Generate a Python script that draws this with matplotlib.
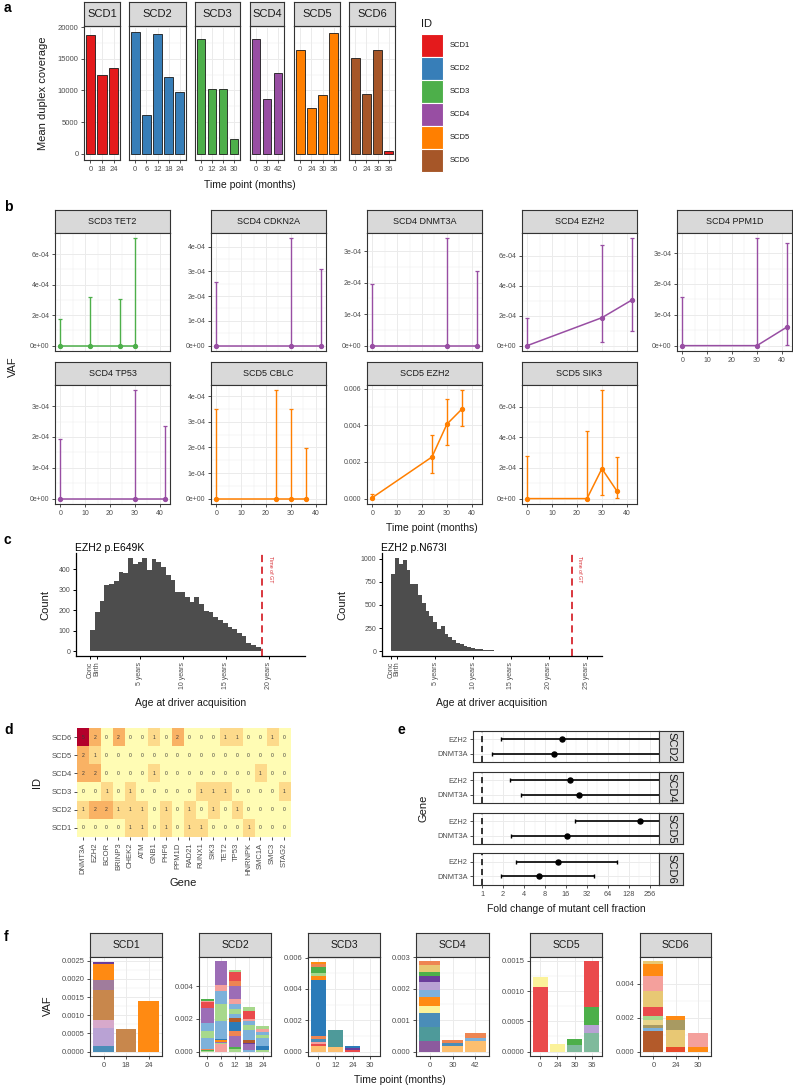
import numpy as np
import matplotlib
matplotlib.use('Agg')
import matplotlib.pyplot as plt
from matplotlib.colors import LinearSegmentedColormap
from matplotlib.patches import Rectangle
from matplotlib.ticker import FixedLocator, NullFormatter
import matplotlib.transforms as mtransforms

plt.rcParams['font.family'] = ['Liberation Sans', 'DejaVu Sans']

# ======================= DATA =======================
# ---- panel a: mean duplex coverage ----
a_ids = ['SCD1', 'SCD2', 'SCD3', 'SCD4', 'SCD5', 'SCD6']
a_times = [['0', '18', '24'], ['0', '6', '12', '18', '24'], ['0', '12', '24', '30'],
           ['0', '30', '42'], ['0', '24', '30', '36'], ['0', '24', '30', '36']]
a_coverage = [[18800, 12400, 13500], [19200, 6200, 18900, 12100, 9800],
              [18100, 10200, 10300, 2400], [18100, 8700, 12800],
              [16400, 7300, 9300, 19000], [15100, 9500, 16300, 450]]
a_bar_id = [['SCD1'] * 3, ['SCD2'] * 5, ['SCD3'] * 4, ['SCD4'] * 3, ['SCD5'] * 4,
            ['SCD6', 'SCD6', 'SCD6', 'SCD1']]
id_colors = {'SCD1': '#E41A1C', 'SCD2': '#377EB8', 'SCD3': '#4DAF4A',
             'SCD4': '#984EA3', 'SCD5': '#FF7F00', 'SCD6': '#A65628'}

# ---- panel b: VAF trajectories ----
b_titles = ['SCD3 TET2', 'SCD4 CDKN2A', 'SCD4 DNMT3A', 'SCD4 EZH2', 'SCD4 PPM1D',
            'SCD4 TP53', 'SCD5 CBLC', 'SCD5 EZH2', 'SCD5 SIK3']
b_ids = ['SCD3', 'SCD4', 'SCD4', 'SCD4', 'SCD4', 'SCD4', 'SCD5', 'SCD5', 'SCD5']
b_times = [[0, 12, 24, 30], [0, 30, 42], [0, 30, 42], [0, 30, 42], [0, 30, 42],
           [0, 30, 42], [0, 24, 30, 36], [0, 24, 30, 36], [0, 24, 30, 36]]
b_vaf = [[0, 0, 0, 0], [0, 0, 0], [0, 0, 0], [0, 1.87e-4, 3.05e-4], [0, 0, 0.6e-4],
         [0, 0, 0], [0, 0, 0, 0], [0.00005, 0.00227, 0.00406, 0.00488],
         [0, 0, 1.95e-4, 0.5e-4]]
b_lower = [[0, 0, 0, 0], [0, 0, 0], [0, 0, 0], [0, 0.22e-4, 1.0e-4], [0, 0, 0.03e-4],
           [0, 0, 0], [0, 0, 0, 0], [0, 0.00138, 0.00291, 0.00398],
           [0, 0, 0.25e-4, 0.02e-4]]
b_upper = [[1.75e-4, 3.22e-4, 3.07e-4, 7.04e-4], [2.55e-4, 4.33e-4, 3.11e-4],
           [1.95e-4, 3.41e-4, 2.36e-4], [1.84e-4, 6.76e-4, 7.18e-4],
           [1.58e-4, 3.48e-4, 3.34e-4], [1.93e-4, 3.51e-4, 2.34e-4],
           [3.49e-4, 4.23e-4, 3.5e-4, 1.99e-4], [0.00027, 0.00349, 0.00545, 0.0059],
           [2.75e-4, 4.41e-4, 7.05e-4, 2.73e-4]]
b_yticks = [[0, 2e-4, 4e-4, 6e-4], [0, 1e-4, 2e-4, 3e-4, 4e-4], [0, 1e-4, 2e-4, 3e-4],
            [0, 2e-4, 4e-4, 6e-4], [0, 1e-4, 2e-4, 3e-4], [0, 1e-4, 2e-4, 3e-4],
            [0, 1e-4, 2e-4, 3e-4, 4e-4], [0, 0.002, 0.004, 0.006], [0, 2e-4, 4e-4, 6e-4]]
b_xticks = [0, 10, 20, 30, 40]

# ---- panel c: age at driver acquisition ----
c_titles = ['EZH2 p.E649K', 'EZH2 p.N673I']
c1_counts = [105, 190, 243, 322, 325, 340, 383, 380, 455, 422, 432, 455, 395, 450, 432,
             412, 370, 345, 290, 287, 262, 238, 262, 232, 195, 190, 168, 150, 138, 118,
             110, 90, 75, 38, 30, 20]
c2_counts = [835, 1010, 940, 990, 880, 725, 725, 605, 525, 432, 385, 312, 240, 275, 185,
             150, 120, 95, 75, 60, 48, 36, 28, 22, 17, 13, 10, 8, 6, 5, 4, 3, 2, 2, 1, 1]
c_bin_start = [-0.75, -0.75]
c_bin_width = [0.55, 0.5]
c_gt = [19.2, 23.0]
c_xticks = [[-0.75, 0, 5, 10, 15, 20], [-0.75, 0, 5, 10, 15, 20, 25]]
c_xticklabels = [['Conc', 'Birth', '5 years', '10 years', '15 years', '20 years'],
                 ['Conc', 'Birth', '5 years', '10 years', '15 years', '20 years', '25 years']]
c_yticks = [[0, 100, 200, 300, 400], [0, 250, 500, 750, 1000]]
c_xlim = [(-2.4, 24.2), (-2.0, 27.0)]

# ---- panel d: heatmap ----
d_ids = ['SCD6', 'SCD5', 'SCD4', 'SCD3', 'SCD2', 'SCD1']
d_genes = ['DNMT3A', 'EZH2', 'BCOR', 'BRINP3', 'CHEK2', 'ATM', 'GNB1', 'PHF6', 'PPM1D',
           'RAD21', 'RUNX1', 'SIK3', 'TET2', 'TP53', 'HNRNPK', 'SMC1A', 'SMC3', 'STAG2']
d_counts = [[5, 2, 0, 2, 0, 0, 1, 0, 2, 0, 0, 0, 1, 1, 0, 0, 1, 0],
            [2, 1, 0, 0, 0, 0, 0, 0, 0, 0, 0, 0, 0, 0, 0, 0, 0, 0],
            [2, 2, 0, 0, 0, 0, 1, 0, 0, 0, 0, 0, 0, 0, 0, 1, 0, 0],
            [0, 0, 1, 0, 1, 0, 0, 0, 0, 0, 1, 1, 1, 0, 0, 0, 0, 1],
            [1, 2, 2, 1, 1, 1, 0, 1, 0, 1, 0, 1, 0, 1, 0, 0, 0, 0],
            [0, 0, 0, 0, 1, 1, 0, 1, 0, 1, 1, 0, 0, 0, 1, 0, 0, 0]]

# ---- panel e: fold change ----
e_ids = ['SCD2', 'SCD4', 'SCD5', 'SCD6']
e_genes = ['DNMT3A', 'EZH2']
e_point = [[10.8, 13.9], [24.6, 18.3], [16.4, 184.0], [6.6, 12.4]]
e_lower = [[1.38, 1.9], [3.6, 2.5], [2.58, 21.5], [1.87, 3.1]]
e_upper = [[1e4, 1e4], [1e4, 1e4], [1e4, 1e4], [40.8, 85.0]]
e_xticks = [1, 2, 4, 8, 16, 32, 64, 128, 256]

# ---- panel f: stacked VAF ----
f_ids = ['SCD1', 'SCD2', 'SCD3', 'SCD4', 'SCD5', 'SCD6']
f_times = [['0', '18', '24'], ['0', '6', '12', '18', '24'], ['0', '12', '24', '30'],
           ['0', '30', '42'], ['0', '24', '30', '36'], ['0', '24', '30']]
f_palette = {'lb': '#7DB1DA', 'b': '#2B7BB9', 'lg': '#A7D88C', 'g': '#4DAF4A',
             'pk': '#F4A09C', 'r': '#EA4A4C', 'lo': '#FDBF6F', 'o': '#FF8A12',
             'lp': '#B9A2D4', 'p': '#9C6DB6', 'dp': '#6A3D9A', 'y': '#FBF29A',
             'br': '#B35A2A', 'tan': '#C8874C', 'teal': '#4E9A9A', 'sal': '#EE8552',
             'mv': '#A07C9C', 'lpk': '#D7A9CB', 'kh': '#E8C874', 'ol': '#A89A62',
             'sb': '#4A8DB8', 'pu2': '#8C5A9E', 'tg': '#7FBA9C', 'lkh': '#EAD58C',
             'ro': '#E84A2A'}
f_vals = [
    [[0.00014, 0.00052, 0.00022, 0.00081, 0.00028, 0.00043, 0.00008], [0.00062], [0.0014]],
    [[0.00005, 0.00004, 0.00006, 0.0007, 0.00042, 0.0005, 0.0009, 0.00035, 0.00005, 0.00017],
     [0.00043, 0.00008, 0.00009, 0.00009, 0.00009, 0.0011, 0.00106, 0.00078, 0.00037, 0.00143],
     [0.00014, 0.00012, 0.00071, 0.0003, 0.00051, 0.0003, 0.00024, 0.00027, 0.00035,
      0.00027, 0.00082, 0.00027, 0.00045, 0.0001, 0.00014],
     [0.0001, 0.00035, 0.0001, 0.00015, 0.0006, 0.0003, 0.00026, 0.00015, 0.0005, 0.00025],
     [0.0001, 0.00022, 0.00048, 0.0002, 0.00022, 0.00015, 0.0002]],
    [[0.00035, 0.0001, 0.00016, 0.00017, 0.00018, 0.00361, 0.00027, 0.0002, 0.00033,
      0.00021, 0.00017],
     [0.0003, 0.0011], [0.00012, 0.0001, 0.0001], []],
    [[0.00034, 0.00045, 0.00044, 0.00021, 0.00028, 0.00023, 0.00025, 0.00019, 0.00014,
      0.00021, 0.00012],
     [0.00016, 0.00012, 0.00009], [0.00032, 0.0001, 0.00018]],
    [[0.00106, 0.00018], [0.00012], [0.00011, 0.00009], [0.0003, 0.00014, 0.0003, 0.00075]],
    [[0.00123, 0.00019, 0.00014, 0.00033, 0.00024, 0.0005, 0.00098, 0.00088, 0.00072, 0.00012],
     [0.00029, 0.00098, 0.00058, 0.00026], [0.00029, 0.00082]],
]
f_cols = [
    [['sb', 'lp', 'lpk', 'tan', 'mv', 'o', 'dp'], ['tan'], ['o']],
    [['lg', 'g', 'sal', 'lb', 'lg', 'lb', 'p', 'r', 'pk', 'g'],
     ['pk', 'lg', 'p', 'o', 'b', 'lb', 'lg', 'lb', 'pk', 'p'],
     ['lg', 'g', 'p', 'sal', 'b', 'br', 'lb', 'lg', 'lb', 'pk', 'p', 'sal', 'r', 'r', 'lg'],
     ['lb', 'p', 'dp', 'br', 'lb', 'lg', 'lb', 'pk', 'r', 'lg'],
     ['lg', 'b', 'lb', 'lg', 'lb', 'pk', 'lg']],
    [['lo', 'r', 'pk', 'sb', 'sal', 'b', 'o', 'lg', 'g', 'sal', 'o'],
     ['lo', 'teal'], ['r', 'dp', 'b'], []],
    [['pu2', 'teal', 'sb', 'y', 'o', 'lb', 'lp', 'dp', 'g', 'kh', 'sal'],
     ['lo', 'sb', 'sal'], ['lo', 'lb', 'sal']],
    [['r', 'y'], ['y'], ['tg', 'g'], ['tg', 'lp', 'g', 'r']],
    [['br', 'lb', 'ol', 'lkh', 'lg', 'r', 'kh', 'pk', 'o', 'kh'],
     ['ro', 'kh', 'ol', 'o'], ['o', 'pk']],
]
f_yticks = [[0, 0.0005, 0.001, 0.0015, 0.002, 0.0025], [0, 0.002, 0.004],
            [0, 0.002, 0.004, 0.006], [0, 0.001, 0.002, 0.003],
            [0, 0.0005, 0.001, 0.0015], [0, 0.002, 0.004]]
f_decimals = [4, 3, 3, 3, 4, 3]

# ======================= FIGURE =======================
W, H = 793, 1086
fig = plt.figure(figsize=(W / 100, H / 100), dpi=100)

BORDER = '#333333'
GRID = '#EBEBEB'
TICKC = '#4D4D4D'
TXT = '#1A1A1A'


def add_ax(x0, y0, x1, y1):
    return fig.add_axes([x0 / W, 1 - y1 / H, (x1 - x0) / W, (y1 - y0) / H])


def ftext(x, y, s, **kw):
    fig.text(x / W, 1 - y / H, s, **kw)


def style_bw(ax, fs=5):
    ax.set_facecolor('white')
    for s in ax.spines.values():
        s.set_color(BORDER)
        s.set_linewidth(0.8)
    ax.tick_params(axis='both', which='major', length=2.5, width=0.6, color=BORDER,
                   labelsize=fs, labelcolor=TICKC, pad=1.5)
    ax.tick_params(axis='both', which='minor', length=0)
    ax.set_axisbelow(True)
    ax.grid(True, which='major', color=GRID, lw=0.7)
    ax.grid(True, which='minor', color=GRID, lw=0.35)


def style_classic(ax, fs=5):
    for s in ['top', 'right']:
        ax.spines[s].set_visible(False)
    for s in ['left', 'bottom']:
        ax.spines[s].set_color('black')
        ax.spines[s].set_linewidth(0.9)
    ax.tick_params(axis='both', length=2.5, width=0.7, color='black', labelsize=5,
                   labelcolor=TICKC, pad=1.5)


def strip(x0, y0, x1, y1, text, fs, rot=0):
    ax = add_ax(x0, y0, x1, y1)
    ax.set_facecolor('#D9D9D9')
    for s in ax.spines.values():
        s.set_color(BORDER)
        s.set_linewidth(0.8)
    ax.set_xticks([])
    ax.set_yticks([])
    ax.text(0.5, 0.5, text, ha='center', va='center', fontsize=fs, color=TXT,
            rotation=rot, transform=ax.transAxes)
    return ax


# panel letters
for lab, (x, y) in zip('abcdef', [(4, 8), (4, 207), (4, 540), (4, 730), (397, 730), (4, 937)]):
    ftext(x, y, lab, fontsize=10, fontweight='bold', ha='left', va='center')

# ---------------- panel a ----------------
a_px = [(84, 120), (129, 186), (195, 240), (250, 284), (294, 340), (349, 395)]
ymax_a = max(max(v) for v in a_coverage)
for i, sid in enumerate(a_ids):
    x0, x1 = a_px[i]
    strip(x0, 2, x1, 26, sid, 8)
    ax = add_ax(x0, 26, x1, 160)
    style_bw(ax, 5.5)
    n = len(a_times[i])
    xs = np.arange(n)
    ax.bar(xs, a_coverage[i], width=0.8, color=[id_colors[c] for c in a_bar_id[i]],
           edgecolor='#1A1A1A', linewidth=0.6, zorder=3)
    ax.set_xlim(-0.55, n - 0.45)
    ax.set_ylim(-0.05 * ymax_a, 1.05 * ymax_a)
    ax.set_xticks(xs)
    ax.set_xticklabels(a_times[i])
    ax.set_yticks([0, 5000, 10000, 15000, 20000])
    ax.yaxis.set_minor_locator(FixedLocator([2500, 7500, 12500, 17500]))
    if i > 0:
        ax.tick_params(axis='y', left=False, labelleft=False)
ftext(43, 93, 'Mean duplex coverage', rotation=90, ha='center', va='center', fontsize=8, color=TXT)
ftext(250, 185, 'Time point (months)', ha='center', va='center', fontsize=7.5, color=TXT)

# legend
lax = add_ax(415, 15, 500, 180)
lax.set_xlim(415, 500)
lax.set_ylim(180, 15)
lax.axis('off')
lax.text(421, 24, 'ID', fontsize=8, va='center', ha='left', color=TXT)
for k, sid in enumerate(a_ids):
    y0 = 34 + k * 23
    lax.add_patch(Rectangle((421, y0), 22, 23, facecolor=id_colors[sid], edgecolor='white', lw=0.8))
    lax.text(450, y0 + 11.5, sid, fontsize=5.5, va='center', ha='left', color=TXT)

# ---------------- panel b ----------------
b_cols_x = [55, 211, 367, 522, 677]
b_rows = [(210, 233, 351), (362, 385, 504)]
for k, title in enumerate(b_titles):
    r, c = divmod(k, 5)
    x0 = b_cols_x[c]
    x1 = x0 + 115
    st, sb, pb = b_rows[r]
    strip(x0, st, x1, sb, title, 6.5)
    ax = add_ax(x0, sb, x1, pb)
    style_bw(ax, 5)
    t = np.array(b_times[k], float)
    v = np.array(b_vaf[k])
    lo = np.array(b_lower[k])
    hi = np.array(b_upper[k])
    col = id_colors[b_ids[k]]
    ax.errorbar(t, v, yerr=[v - lo, hi - v], color=col, lw=1.1, marker='o', ms=2.8,
                capsize=1.5, capthick=0.9, elinewidth=1.0, zorder=3)
    ymin_, ymax_ = lo.min(), hi.max()
    rng = ymax_ - ymin_
    ax.set_ylim(ymin_ - 0.05 * rng, ymax_ + 0.05 * rng)
    ax.set_xlim(-2.1, 44.1)
    ax.set_xticks(b_xticks)
    ax.xaxis.set_minor_locator(FixedLocator([5, 15, 25, 35]))
    yt = b_yticks[k]
    ax.set_yticks(yt)
    if title == 'SCD5 EZH2':
        ax.set_yticklabels(['%.3f' % y for y in yt])
    else:
        ax.set_yticklabels(['%.0e' % y for y in yt])
    ax.yaxis.set_minor_locator(FixedLocator([(yt[j] + yt[j + 1]) / 2 for j in range(len(yt) - 1)]))
    if r == 0 and c < 4:
        ax.tick_params(axis='x', which='both', bottom=False, labelbottom=False)
ftext(13, 367, 'VAF', rotation=90, ha='center', va='center', fontsize=8, color=TXT)
ftext(432, 528, 'Time point (months)', ha='center', va='center', fontsize=7.5, color=TXT)

# ---------------- panel c ----------------
c_px = [(76, 305), (382, 602)]
for i, counts in enumerate([c1_counts, c2_counts]):
    x0, x1 = c_px[i]
    ax = add_ax(x0, 553, x1, 656)
    style_classic(ax, 5)
    counts = np.array(counts, float)
    edges = c_bin_start[i] + c_bin_width[i] * np.arange(len(counts))
    ax.bar(edges, counts, width=c_bin_width[i], align='edge', color='#4D4D4D', lw=0)
    ax.axvline(c_gt[i], color='#D7282F', ls=(0, (4, 2.5)), lw=1.3)
    trans = mtransforms.blended_transform_factory(ax.transData, ax.transAxes)
    ax.text(c_gt[i] + 0.7, 0.97, 'Time of GT', transform=trans, rotation=-90, va='top',
            ha='left', fontsize=3.8, color='#D7282F')
    ax.set_xlim(*c_xlim[i])
    ax.set_ylim(-0.05 * counts.max(), 1.05 * counts.max())
    ax.set_xticks(c_xticks[i])
    ax.set_xticklabels(c_xticklabels[i], rotation=90)
    ax.set_yticks(c_yticks[i])
    ftext(x0 - 1, 548, c_titles[i], ha='left', va='center', fontsize=7.5, color='black')
    ftext(x0 - 31 if i == 0 else x0 - 40, 605, 'Count', rotation=90, ha='center', va='center', fontsize=8, color=TXT)
    ftext((x0 + x1) / 2, 703, 'Age at driver acquisition', ha='center', va='center', fontsize=7.5, color=TXT)

# ---------------- panel d ----------------
d_cmap = LinearSegmentedColormap.from_list('d', ['#FFFCB4', '#FDDA8B', '#F9B264', '#F4823F', '#E04430', '#B3002B'])
ax = add_ax(77, 728, 290, 837)
mat = np.array(d_counts)
ax.imshow(mat, cmap=d_cmap, vmin=0, vmax=5, aspect='auto', interpolation='nearest')
for r in range(mat.shape[0]):
    for c in range(mat.shape[1]):
        ax.text(c, r, str(mat[r, c]), ha='center', va='center', fontsize=3.6, color='#3A3A3A')
for s in ax.spines.values():
    s.set_visible(False)
ax.set_xticks(range(len(d_genes)))
ax.set_xticklabels(d_genes, rotation=90)
ax.set_yticks(range(len(d_ids)))
ax.set_yticklabels(d_ids)
ax.tick_params(axis='both', length=2.5, width=0.6, color=BORDER, labelsize=5.5, labelcolor=TICKC, pad=1.5)
ftext(37, 782, 'ID', rotation=90, ha='center', va='center', fontsize=8, color=TXT)
ftext(183, 883, 'Gene', ha='center', va='center', fontsize=8, color=TXT)

# ---------------- panel e ----------------
e_rows = [(731, 762), (772, 803), (813, 844), (853, 885)]
for i, sid in enumerate(e_ids):
    y0, y1 = e_rows[i]
    ax = add_ax(473, y0, 659, y1)
    style_bw(ax, 5.3)
    strip(659, y0, 683, y1, sid, 8, rot=-90)
    ax.set_xscale('log', base=2)
    ax.set_xlim(2 ** -0.43, 2 ** 8.43)
    ax.set_ylim(0.4, 2.6)
    ys = np.array([1, 2])
    p = np.array(e_point[i])
    lo = np.array(e_lower[i])
    hi = np.array(e_upper[i])
    ax.axvline(1, color='black', ls=(0, (4, 2.5)), lw=1.1, zorder=2)
    ax.errorbar(p, ys, xerr=[p - lo, hi - p], fmt='o', color='black', ms=3.6, lw=1.2,
                elinewidth=1.2, capsize=1.3, capthick=1.0, zorder=3)
    ax.set_xticks(e_xticks)
    ax.set_xticklabels([str(v) for v in e_xticks])
    ax.xaxis.set_minor_locator(FixedLocator([2 ** (k + 0.5) for k in range(-1, 9)]))
    ax.xaxis.set_minor_formatter(NullFormatter())
    ax.set_yticks([1, 2])
    ax.set_yticklabels(e_genes)
    ax.yaxis.set_minor_locator(FixedLocator([]))
    ax.tick_params(axis='both', which='minor', length=0)
    if i < 3:
        ax.tick_params(axis='x', which='both', bottom=False, labelbottom=False)
ftext(423, 808, 'Gene', rotation=90, ha='center', va='center', fontsize=8, color=TXT)
ftext(566, 909, 'Fold change of mutant cell fraction', ha='center', va='center', fontsize=7.5, color=TXT)

# ---------------- panel f ----------------
f_px = [(90, 162), (199, 271), (308, 380), (416, 489), (530, 602), (640, 711)]
for i, sid in enumerate(f_ids):
    x0, x1 = f_px[i]
    strip(x0, 933, x1, 957, sid, 7.5)
    ax = add_ax(x0, 957, x1, 1056)
    style_bw(ax, 5.5)
    n = len(f_times[i])
    totals = []
    for j in range(n):
        vals = f_vals[i][j]
        cols = [f_palette[c] for c in f_cols[i][j]]
        if len(vals):
            bottoms = np.concatenate([[0], np.cumsum(vals)[:-1]])
            ax.bar([j] * len(vals), vals, bottom=bottoms, width=0.9, color=cols, lw=0, zorder=3)
        totals.append(float(np.sum(vals)) if len(vals) else 0.0)
    tmax = max(totals)
    ax.set_ylim(-0.05 * tmax, 1.05 * tmax)
    ax.set_xlim(-0.6, n - 0.4)
    ax.set_xticks(range(n))
    ax.set_xticklabels(f_times[i])
    yt = f_yticks[i]
    ax.set_yticks(yt)
    ax.set_yticklabels([('%.' + str(f_decimals[i]) + 'f') % y for y in yt])
    ax.yaxis.set_minor_locator(FixedLocator([(yt[j] + yt[j + 1]) / 2 for j in range(len(yt) - 1)]))
ftext(48, 1006, 'VAF', rotation=90, ha='center', va='center', fontsize=8, color=TXT)
ftext(400, 1080, 'Time point (months)', ha='center', va='center', fontsize=7.5, color=TXT)

fig.savefig('out.png', dpi=100)
